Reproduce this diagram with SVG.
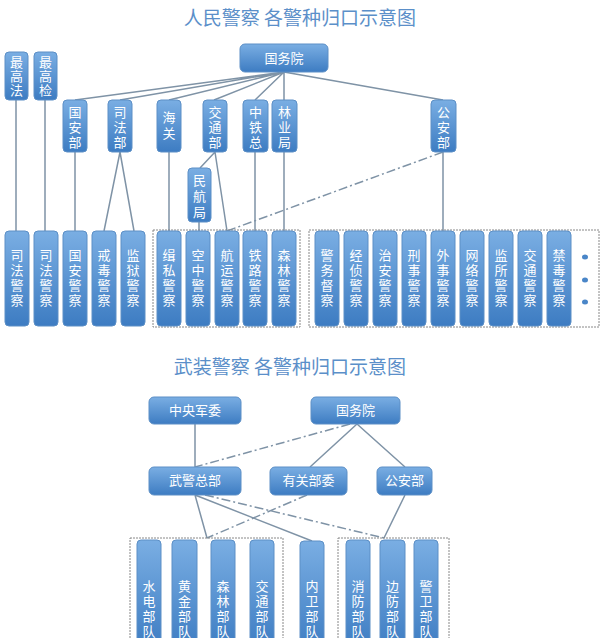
<svg xmlns="http://www.w3.org/2000/svg" width="600" height="638" viewBox="0 0 600 638">
<defs>
<linearGradient id="g" x1="0" y1="0" x2="0" y2="1"><stop offset="0" stop-color="#7aaee3"/><stop offset="1" stop-color="#3d7cc2"/></linearGradient>
<style>
.b{fill:url(#g);stroke:#5c8fc6;stroke-width:1}
.t{font-family:"Noto Sans CJK SC",sans-serif;font-size:13px;fill:#fff;text-anchor:middle}
.ti{font-family:"Noto Sans CJK SC",sans-serif;font-size:19px;fill:#5b8fc9;text-anchor:middle}
.l{stroke:#7f93a6;stroke-width:1.5;fill:none}
.d{stroke:#7f93a6;stroke-width:1.5;fill:none;stroke-dasharray:9 3 2 3}
.f{fill:none;stroke:#888;stroke-width:1;stroke-dasharray:2 1}
</style>
</defs>
<rect width="600" height="638" fill="#fff"/>
<text class="ti" x="300" y="25">人民警察 各警种归口示意图</text>
<text class="ti" x="290" y="374">武装警察 各警种归口示意图</text>
<g id="connectors">
<path class="l" d="M284 72L75 100M284 72L120 100M284 72L169 100M284 72L214 100M284 72L255 100M284 72L284 100M284 72L443 100"/>
<path class="l" d="M16 100V231M45 100V231M75 152V231M120 152L104 231M120 152L134 231M169 152V231M215 152L200 168M215 152L227 231M199 222V231M255 152V231M284 152V231M443 152V231"/>
<path class="d" d="M443 152L227 231"/>
<path class="l" d="M195 424V467M357 424L310 467M357 424L405 467M195 495L207 538M195 495L312 541M405 495L384 538"/>
<path class="d" d="M350 424L195 467M205 495L384 538M307 495L207 538"/>
</g>
<rect class="f" x="153" y="230" width="147" height="97"/>
<rect class="f" x="309" y="230" width="290" height="97"/>
<rect class="f" x="130" y="538" width="153" height="104"/>
<rect class="f" x="338" y="538" width="111" height="104"/>
<g id="n-gwy"><rect class="b" x="240" y="44" width="88" height="28" rx="5"/><text class="t" x="284" y="63">国务院</text></g>
<g id="n-zgf"><rect class="b" x="5" y="52" width="23" height="48" rx="4"/><text class="t" x="16.5" y="67">最</text><text class="t" x="16.5" y="81">高</text><text class="t" x="16.5" y="95">法</text></g>
<g id="n-zgj"><rect class="b" x="34" y="52" width="23" height="48" rx="4"/><text class="t" x="45.5" y="67">最</text><text class="t" x="45.5" y="81">高</text><text class="t" x="45.5" y="95">检</text></g>
<g id="n-gab"><rect class="b" x="63" y="100" width="24" height="52" rx="4"/><text class="t" x="75" y="117">国</text><text class="t" x="75" y="132">安</text><text class="t" x="75" y="147">部</text></g>
<g id="n-sfb"><rect class="b" x="108" y="100" width="24" height="52" rx="4"/><text class="t" x="120" y="117">司</text><text class="t" x="120" y="132">法</text><text class="t" x="120" y="147">部</text></g>
<g id="n-hg"><rect class="b" x="157" y="100" width="24" height="52" rx="4"/><text class="t" x="169" y="122">海</text><text class="t" x="169" y="138">关</text></g>
<g id="n-jtb"><rect class="b" x="203" y="100" width="24" height="52" rx="4"/><text class="t" x="215" y="117">交</text><text class="t" x="215" y="132">通</text><text class="t" x="215" y="147">部</text></g>
<g id="n-ztz"><rect class="b" x="243" y="100" width="25" height="52" rx="4"/><text class="t" x="255.5" y="117">中</text><text class="t" x="255.5" y="132">铁</text><text class="t" x="255.5" y="147">总</text></g>
<g id="n-lyj"><rect class="b" x="272" y="100" width="25" height="52" rx="4"/><text class="t" x="284.5" y="117">林</text><text class="t" x="284.5" y="132">业</text><text class="t" x="284.5" y="147">局</text></g>
<g id="n-gonganbu"><rect class="b" x="431" y="100" width="25" height="52" rx="4"/><text class="t" x="443.5" y="117">公</text><text class="t" x="443.5" y="132">安</text><text class="t" x="443.5" y="147">部</text></g>
<g id="n-mhj"><rect class="b" x="188" y="168" width="23" height="54" rx="4"/><text class="t" x="199.5" y="185">民</text><text class="t" x="199.5" y="201">航</text><text class="t" x="199.5" y="217">局</text></g>
<g id="bottom1" class="t">
<g id="p1"><rect class="b" x="5" y="231" width="24" height="95" rx="4"/><text class="t" x="17" y="260">司</text><text class="t" x="17" y="275">法</text><text class="t" x="17" y="290">警</text><text class="t" x="17" y="305">察</text></g>
<g id="p2"><rect class="b" x="34" y="231" width="24" height="95" rx="4"/><text class="t" x="46" y="260">司</text><text class="t" x="46" y="275">法</text><text class="t" x="46" y="290">警</text><text class="t" x="46" y="305">察</text></g>
<g id="p3"><rect class="b" x="63" y="231" width="24" height="95" rx="4"/><text class="t" x="75" y="260">国</text><text class="t" x="75" y="275">安</text><text class="t" x="75" y="290">警</text><text class="t" x="75" y="305">察</text></g>
<g id="p4"><rect class="b" x="92" y="231" width="24" height="95" rx="4"/><text class="t" x="104" y="260">戒</text><text class="t" x="104" y="275">毒</text><text class="t" x="104" y="290">警</text><text class="t" x="104" y="305">察</text></g>
<g id="p5"><rect class="b" x="121" y="231" width="24" height="95" rx="4"/><text class="t" x="133" y="260">监</text><text class="t" x="133" y="275">狱</text><text class="t" x="133" y="290">警</text><text class="t" x="133" y="305">察</text></g>
<g id="p6"><rect class="b" x="157" y="231" width="24" height="95" rx="4"/><text class="t" x="169" y="260">缉</text><text class="t" x="169" y="275">私</text><text class="t" x="169" y="290">警</text><text class="t" x="169" y="305">察</text></g>
<g id="p7"><rect class="b" x="186" y="231" width="24" height="95" rx="4"/><text class="t" x="198" y="260">空</text><text class="t" x="198" y="275">中</text><text class="t" x="198" y="290">警</text><text class="t" x="198" y="305">察</text></g>
<g id="p8"><rect class="b" x="215" y="231" width="24" height="95" rx="4"/><text class="t" x="227" y="260">航</text><text class="t" x="227" y="275">运</text><text class="t" x="227" y="290">警</text><text class="t" x="227" y="305">察</text></g>
<g id="p9"><rect class="b" x="243" y="231" width="24" height="95" rx="4"/><text class="t" x="255" y="260">铁</text><text class="t" x="255" y="275">路</text><text class="t" x="255" y="290">警</text><text class="t" x="255" y="305">察</text></g>
<g id="p10"><rect class="b" x="272" y="231" width="24" height="95" rx="4"/><text class="t" x="284" y="260">森</text><text class="t" x="284" y="275">林</text><text class="t" x="284" y="290">警</text><text class="t" x="284" y="305">察</text></g>
<g id="p11"><rect class="b" x="315" y="231" width="24" height="95" rx="4"/><text class="t" x="327" y="260">警</text><text class="t" x="327" y="275">务</text><text class="t" x="327" y="290">督</text><text class="t" x="327" y="305">察</text></g>
<g id="p12"><rect class="b" x="344" y="231" width="24" height="95" rx="4"/><text class="t" x="356" y="260">经</text><text class="t" x="356" y="275">侦</text><text class="t" x="356" y="290">警</text><text class="t" x="356" y="305">察</text></g>
<g id="p13"><rect class="b" x="373" y="231" width="24" height="95" rx="4"/><text class="t" x="385" y="260">治</text><text class="t" x="385" y="275">安</text><text class="t" x="385" y="290">警</text><text class="t" x="385" y="305">察</text></g>
<g id="p14"><rect class="b" x="402" y="231" width="24" height="95" rx="4"/><text class="t" x="414" y="260">刑</text><text class="t" x="414" y="275">事</text><text class="t" x="414" y="290">警</text><text class="t" x="414" y="305">察</text></g>
<g id="p15"><rect class="b" x="431" y="231" width="24" height="95" rx="4"/><text class="t" x="443" y="260">外</text><text class="t" x="443" y="275">事</text><text class="t" x="443" y="290">警</text><text class="t" x="443" y="305">察</text></g>
<g id="p16"><rect class="b" x="460" y="231" width="24" height="95" rx="4"/><text class="t" x="472" y="260">网</text><text class="t" x="472" y="275">络</text><text class="t" x="472" y="290">警</text><text class="t" x="472" y="305">察</text></g>
<g id="p17"><rect class="b" x="489" y="231" width="24" height="95" rx="4"/><text class="t" x="501" y="260">监</text><text class="t" x="501" y="275">所</text><text class="t" x="501" y="290">警</text><text class="t" x="501" y="305">察</text></g>
<g id="p18"><rect class="b" x="518" y="231" width="24" height="95" rx="4"/><text class="t" x="530" y="260">交</text><text class="t" x="530" y="275">通</text><text class="t" x="530" y="290">警</text><text class="t" x="530" y="305">察</text></g>
<g id="p19"><rect class="b" x="547" y="231" width="24" height="95" rx="4"/><text class="t" x="559" y="260">禁</text><text class="t" x="559" y="275">毒</text><text class="t" x="559" y="290">警</text><text class="t" x="559" y="305">察</text></g>
<g id="dots" fill="#4a86c8"><ellipse cx="585" cy="257" rx="3" ry="2.5"/><ellipse cx="585" cy="280" rx="3" ry="2.5"/><ellipse cx="585" cy="302" rx="3" ry="2.5"/></g>
</g>
<g id="w-zyjw"><rect class="b" x="149" y="397" width="92" height="27" rx="5"/><text class="t" x="195" y="415">中央军委</text></g>
<g id="w-gwy"><rect class="b" x="311" y="397" width="89" height="27" rx="5"/><text class="t" x="355.5" y="415">国务院</text></g>
<g id="w-wjzb"><rect class="b" x="149" y="467" width="92" height="28" rx="5"/><text class="t" x="195" y="485">武警总部</text></g>
<g id="w-ygbw"><rect class="b" x="270" y="467" width="77" height="28" rx="5"/><text class="t" x="308.5" y="485">有关部委</text></g>
<g id="w-gab"><rect class="b" x="377" y="467" width="55" height="28" rx="5"/><text class="t" x="404.5" y="485">公安部</text></g>
<g id="w1"><rect class="b" x="137" y="540" width="24" height="110" rx="4"/><text class="t" x="149" y="591">水</text><text class="t" x="149" y="606">电</text><text class="t" x="149" y="621">部</text><text class="t" x="149" y="636">队</text></g>
<g id="w2"><rect class="b" x="172" y="540" width="25" height="110" rx="4"/><text class="t" x="184.5" y="591">黄</text><text class="t" x="184.5" y="606">金</text><text class="t" x="184.5" y="621">部</text><text class="t" x="184.5" y="636">队</text></g>
<g id="w3"><rect class="b" x="211" y="540" width="24" height="110" rx="4"/><text class="t" x="223" y="591">森</text><text class="t" x="223" y="606">林</text><text class="t" x="223" y="621">部</text><text class="t" x="223" y="636">队</text></g>
<g id="w4"><rect class="b" x="250" y="540" width="24" height="110" rx="4"/><text class="t" x="262" y="591">交</text><text class="t" x="262" y="606">通</text><text class="t" x="262" y="621">部</text><text class="t" x="262" y="636">队</text></g>
<g id="w5"><rect class="b" x="300" y="541" width="24" height="110" rx="4"/><text class="t" x="312" y="591">内</text><text class="t" x="312" y="606">卫</text><text class="t" x="312" y="621">部</text><text class="t" x="312" y="636">队</text></g>
<g id="w6"><rect class="b" x="346" y="540" width="24" height="110" rx="4"/><text class="t" x="358" y="591">消</text><text class="t" x="358" y="606">防</text><text class="t" x="358" y="621">部</text><text class="t" x="358" y="636">队</text></g>
<g id="w7"><rect class="b" x="380" y="540" width="25" height="110" rx="4"/><text class="t" x="392.5" y="591">边</text><text class="t" x="392.5" y="606">防</text><text class="t" x="392.5" y="621">部</text><text class="t" x="392.5" y="636">队</text></g>
<g id="w8"><rect class="b" x="414" y="540" width="24" height="110" rx="4"/><text class="t" x="426" y="591">警</text><text class="t" x="426" y="606">卫</text><text class="t" x="426" y="621">部</text><text class="t" x="426" y="636">队</text></g>
</svg>
